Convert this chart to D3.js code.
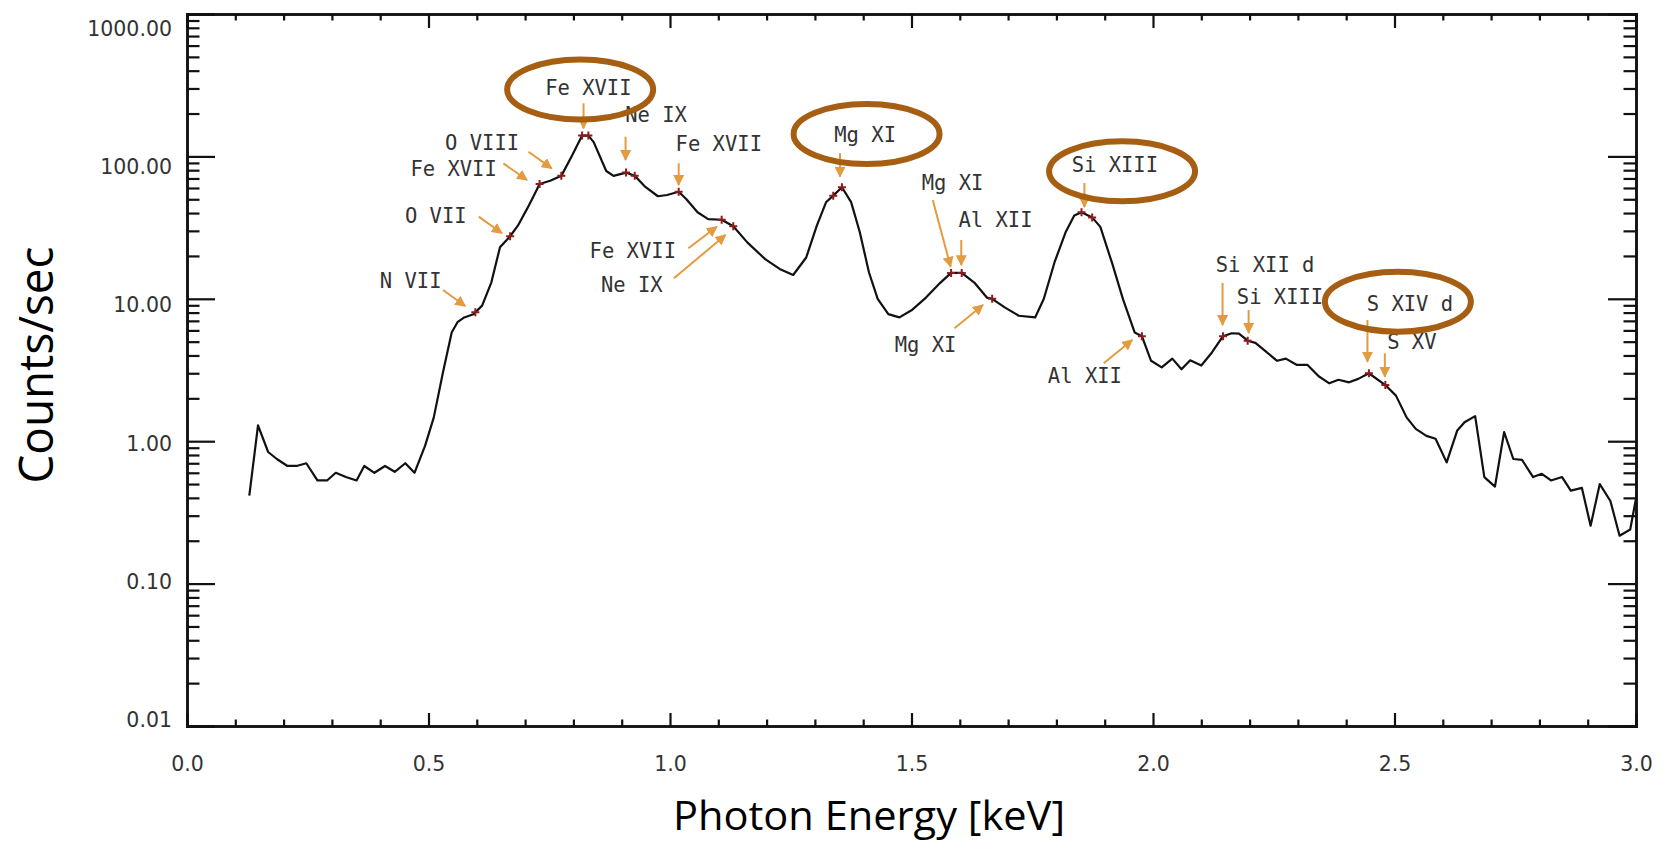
<!DOCTYPE html>
<html>
<head>
<meta charset="utf-8">
<script src="https://cdn.jsdelivr.net/npm/d3@7"></script>
<style>
  body { margin: 0; background: #fff; }
  svg { display: block; }
</style>
</head>
<body>
<svg id="chart" width="1665" height="841"></svg>
<script>
// X-ray spectrum: count rate versus photon energy (log scale)
const energy = [
  0.129, 0.147, 0.168, 0.186, 0.208, 0.227, 0.247, 0.270, 0.290, 0.308,
  0.329, 0.351, 0.367, 0.388, 0.410, 0.430, 0.452, 0.471, 0.493, 0.511,
  0.530, 0.548, 0.560, 0.574, 0.593, 0.611, 0.630, 0.648, 0.669, 0.685,
  0.704, 0.718, 0.730, 0.752, 0.775, 0.797, 0.818, 0.831, 0.842, 0.868,
  0.883, 0.909, 0.927, 0.949, 0.975, 0.994, 1.018, 1.034, 1.057, 1.079,
  1.107, 1.131, 1.160, 1.197, 1.227, 1.255, 1.282, 1.304, 1.323, 1.338,
  1.356, 1.375, 1.393, 1.412, 1.430, 1.452, 1.475, 1.500, 1.530, 1.560,
  1.582, 1.604, 1.630, 1.656, 1.667, 1.693, 1.722, 1.756, 1.774, 1.796,
  1.819, 1.837, 1.852, 1.874, 1.891, 1.916, 1.938, 1.962, 1.977, 1.996,
  2.018, 2.040, 2.059, 2.077, 2.100, 2.122, 2.145, 2.163, 2.178, 2.196,
  2.212, 2.234, 2.257, 2.275, 2.298, 2.320, 2.343, 2.365, 2.384, 2.406,
  2.425, 2.447, 2.481, 2.503, 2.525, 2.544, 2.566, 2.585, 2.608, 2.630,
  2.645, 2.667, 2.686, 2.708, 2.727, 2.746, 2.764, 2.787, 2.805, 2.824,
  2.847, 2.865, 2.888, 2.906, 2.925, 2.947, 2.966, 2.988, 3.007
];
const countRate = [
  0.414, 1.29, 0.84, 0.75, 0.67, 0.67, 0.70, 0.53, 0.53, 0.60,
  0.56, 0.53, 0.67, 0.60, 0.67, 0.61, 0.70, 0.60, 0.93, 1.47,
  3.05, 5.8, 6.85, 7.4, 7.8, 8.95, 13, 23, 27.5, 32.6,
  42.8, 53, 64, 67.5, 73, 101, 140, 140, 126, 79,
  73, 77, 73, 61, 52.5, 53.6, 56.5, 50, 40.5, 36.3,
  35.9, 32.3, 24.9, 19, 16.2, 14.7, 19.5, 32.6, 47.6, 53,
  60.7, 47.7, 29.3, 15.3, 10, 7.8, 7.4, 8.3, 10.2, 13,
  15.2, 15.2, 13, 10.2, 10, 8.7, 7.6, 7.4, 10, 18,
  29.3, 38.4, 40.5, 37.3, 32, 17.5, 9.9, 5.8, 5.46, 3.67,
  3.3, 3.8, 3.2, 3.7, 3.4, 4.2, 5.46, 5.73, 5.7, 5.08,
  4.9, 4.25, 3.67, 3.8, 3.43, 3.43, 2.86, 2.55, 2.7, 2.59,
  2.74, 3.0, 2.48, 2.09, 1.47, 1.22, 1.09, 1.04, 0.71, 1.19,
  1.36, 1.50, 0.56, 0.48, 1.16, 0.75, 0.74, 0.56, 0.59, 0.53,
  0.56, 0.45, 0.47, 0.255, 0.50, 0.38, 0.217, 0.24, 0.53
];

// Identified emission lines (energies in keV)
const lineEnergies = [
  0.597, 0.669, 0.730, 0.775, 0.818, 0.831, 0.909, 0.927, 1.018, 1.107,
  1.131, 1.338, 1.356, 1.582, 1.604, 1.667, 1.852, 1.874, 1.977, 2.145,
  2.196, 2.447, 2.481
];

// Line labels: text, label centre (keV, log10 counts), arrow from -> to (keV, log10 counts)
const labelText = [
  "N VII", "O VII", "Fe XVII", "O VIII", "Fe XVII", "Ne IX", "Fe XVII",
  "Fe XVII", "Ne IX", "Mg XI", "Mg XI", "Al XII", "Mg XI", "Al XII",
  "Si XIII", "Si XII d", "Si XIII", "S XIV d", "S XV"
];
const labelKeV = [0.463, 0.515, 0.552, 0.611, 0.831, 0.971, 1.101, 0.923, 0.921, 1.404, 1.585, 1.674, 1.529, 1.859, 1.921, 2.232, 2.263, 2.532, 2.536];
const labelLog = [1.125, 1.581, 1.916, 2.096, 2.485, 2.291, 2.087, 1.338, 1.097, 2.150, 1.815, 1.558, 0.676, 0.458, 1.942, 1.237, 1.015, 0.963, 0.700];
const arrowKeV0 = [0.530, 0.604, 0.655, 0.707, 0.821, 0.908, 1.018, 1.038, 1.008, 1.352, 1.544, 1.603, 1.589, 1.898, 1.858, 2.144, 2.198, 2.444, 2.480];
const arrowLog0 = [1.062, 1.577, 1.951, 2.033, 2.373, 2.138, 1.952, 1.355, 1.144, 2.022, 1.694, 1.413, 0.793, 0.547, 1.813, 1.111, 0.921, 0.851, 0.617];
const arrowKeV1 = [0.576, 0.652, 0.704, 0.755, 0.821, 0.908, 1.018, 1.097, 1.115, 1.352, 1.581, 1.603, 1.648, 1.957, 1.858, 2.144, 2.198, 2.444, 2.480];
const arrowLog1 = [0.949, 1.460, 1.834, 1.916, 2.197, 1.975, 1.799, 1.506, 1.448, 1.857, 1.225, 1.237, 0.956, 0.711, 1.645, 0.816, 0.760, 0.558, 0.453];

// Highlighted lines (ellipse centres, keV and log10 counts)
const highlightKeV = [0.814, 1.407, 1.936, 2.507];
const highlightLog = [2.470, 2.157, 1.895, 0.980];

const xMajorTicks = [0.0, 0.5, 1.0, 1.5, 2.0, 2.5, 3.0];
const yMajorTicks = [0.01, 0.1, 1, 10, 100, 1000];

const svg = d3.select("#chart");
const W = 1665, H = 841;
const plot = { left: 187, right: 1636, top: 14, bottom: 726 };

const x = d3.scaleLinear().domain([0, 3]).range([plot.left, plot.right]);
const y = d3.scaleLog().domain([0.01, 1000]).range([plot.bottom, plot.top]);
// tick labels sit on a slightly tighter ladder than the ticks themselves
const yLabel = d3.scaleLog().domain([0.01, 1000]).range([720, 29]);

svg.append("rect").attr("width", W).attr("height", H).attr("fill", "#fff");

const defs = svg.append("defs");
defs.append("clipPath").attr("id", "plotClip")
  .append("rect")
  .attr("x", plot.left).attr("y", plot.top)
  .attr("width", plot.right - plot.left).attr("height", plot.bottom - plot.top);
defs.append("marker")
  .attr("id", "arrowHead")
  .attr("viewBox", "0 0 10 10")
  .attr("refX", 9).attr("refY", 5)
  .attr("markerWidth", 5.5).attr("markerHeight", 5.5)
  .attr("markerUnits", "strokeWidth")
  .attr("orient", "auto")
  .append("path").attr("d", "M0,0 L10,5 L0,10 z").attr("fill", "#E49B3F");

// minor ticks
const xMinor = d3.range(0, 31).map(i => i / 10).filter(v => !xMajorTicks.some(m => Math.abs(m - v) < 1e-6));
const yMinor = [];
for (let e = -2; e < 3; e++) for (let k = 2; k <= 9; k++) yMinor.push(k * Math.pow(10, e));

const axisColor = "#111";
const tickFont = "'DejaVu Sans', sans-serif";

function styleAxis(g) {
  g.selectAll(".domain").attr("stroke", axisColor).attr("stroke-width", 2.5);
  g.selectAll(".tick line").attr("stroke", axisColor).attr("stroke-width", 2.2);
  g.selectAll(".tick text").attr("fill", "#333").attr("font-family", tickFont).attr("font-size", 20.5);
}

// bottom axis
svg.append("g").attr("transform", `translate(0,${plot.bottom})`)
  .call(d3.axisBottom(x).tickValues(xMinor).tickSize(-6.5).tickFormat(""))
  .call(styleAxis);
svg.append("g").attr("transform", `translate(0,${plot.bottom})`)
  .call(d3.axisBottom(x).tickValues(xMajorTicks).tickSize(-13).tickPadding(30).tickFormat(d3.format(".1f")))
  .call(styleAxis);
// top axis
svg.append("g").attr("transform", `translate(0,${plot.top})`)
  .call(d3.axisTop(x).tickValues(xMinor).tickSize(-6.5).tickFormat(""))
  .call(styleAxis);
svg.append("g").attr("transform", `translate(0,${plot.top})`)
  .call(d3.axisTop(x).tickValues(xMajorTicks).tickSize(-14).tickFormat(""))
  .call(styleAxis);
// left axis
svg.append("g").attr("transform", `translate(${plot.left},0)`)
  .call(d3.axisLeft(y).tickValues(yMinor).tickSize(-12.5).tickFormat(""))
  .call(styleAxis);
const yLeft = svg.append("g").attr("transform", `translate(${plot.left},0)`)
  .call(d3.axisLeft(y).tickValues(yMajorTicks).tickSize(-28).tickPadding(15).tickFormat(d3.format(".2f")))
  .call(styleAxis);
yLeft.selectAll(".tick text")
  .attr("y", d => yLabel(d) - y(d));
// right axis
svg.append("g").attr("transform", `translate(${plot.right},0)`)
  .call(d3.axisRight(y).tickValues(yMinor).tickSize(-12.5).tickFormat(""))
  .call(styleAxis);
svg.append("g").attr("transform", `translate(${plot.right},0)`)
  .call(d3.axisRight(y).tickValues(yMajorTicks).tickSize(-28).tickFormat(""))
  .call(styleAxis);

// spectrum
const spectrum = energy.map((e, i) => ({ e, c: countRate[i] }));
svg.append("path")
  .datum(spectrum)
  .attr("clip-path", "url(#plotClip)")
  .attr("fill", "none")
  .attr("stroke", "#111")
  .attr("stroke-width", 2.2)
  .attr("stroke-linejoin", "round")
  .attr("d", d3.line().x(d => x(d.e)).y(d => y(d.c)));

// line positions on the spectrum (log-linear interpolation)
function rateAt(e) {
  const i = Math.max(1, d3.bisectLeft(energy, e));
  const e0 = energy[i - 1], e1 = energy[i];
  const t = (e - e0) / (e1 - e0);
  return Math.pow(10, Math.log10(countRate[i - 1]) * (1 - t) + Math.log10(countRate[i]) * t);
}
const crossSize = 4;
svg.append("g").selectAll("path")
  .data(lineEnergies)
  .join("path")
  .attr("d", e => {
    const px = x(e), py = y(rateAt(e));
    return `M${px - crossSize},${py}H${px + crossSize}M${px},${py - crossSize}V${py + crossSize}`;
  })
  .attr("stroke", "#8E1B1B")
  .attr("stroke-width", 2);

// arrows
svg.append("g").selectAll("line")
  .data(labelText.map((t, i) => i))
  .join("line")
  .attr("x1", i => x(arrowKeV0[i]))
  .attr("y1", i => y(Math.pow(10, arrowLog0[i])))
  .attr("x2", i => x(arrowKeV1[i]))
  .attr("y2", i => y(Math.pow(10, arrowLog1[i])))
  .attr("stroke", "#E49B3F")
  .attr("stroke-width", 2)
  .attr("marker-end", "url(#arrowHead)");

// labels
svg.append("g").selectAll("text")
  .data(labelText.map((t, i) => i))
  .join("text")
  .attr("x", i => x(labelKeV[i]))
  .attr("y", i => y(Math.pow(10, labelLog[i])))
  .attr("dy", "0.36em")
  .attr("text-anchor", "middle")
  .attr("font-family", "'DejaVu Sans Mono', monospace")
  .attr("font-size", 20.5)
  .attr("fill", "#333")
  .text(i => labelText[i]);

// highlight ellipses
svg.append("g").selectAll("ellipse")
  .data(highlightKeV.map((k, i) => i))
  .join("ellipse")
  .attr("cx", i => x(highlightKeV[i]))
  .attr("cy", i => y(Math.pow(10, highlightLog[i])))
  .attr("rx", 73)
  .attr("ry", 30)
  .attr("fill", "none")
  .attr("stroke", "#A65F12")
  .attr("stroke-width", 6);

// axis titles
svg.append("text")
  .attr("transform", `translate(53,365) rotate(-90)`)
  .attr("text-anchor", "middle")
  .attr("font-family", "'Open Sans', sans-serif")
  .attr("font-size", 47)
  .attr("textLength", 237)
  .attr("lengthAdjust", "spacingAndGlyphs")
  .attr("fill", "#000")
  .text("Counts/sec");
svg.append("text")
  .attr("x", 869)
  .attr("y", 830)
  .attr("text-anchor", "middle")
  .attr("font-family", "'Open Sans', sans-serif")
  .attr("font-size", 40)
  .attr("textLength", 392)
  .attr("lengthAdjust", "spacingAndGlyphs")
  .attr("fill", "#000")
  .text("Photon Energy [keV]");
</script>
</body>
</html>
